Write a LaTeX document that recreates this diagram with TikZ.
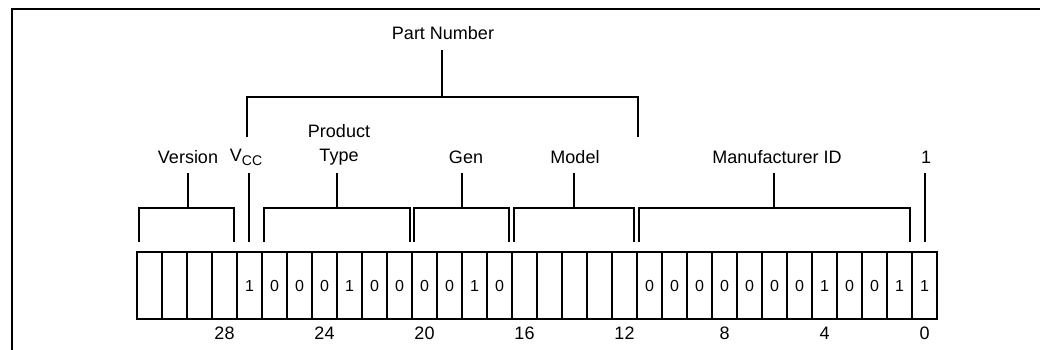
\documentclass[tikz,border=0pt]{standalone}
\usepackage{fontspec}
\setmainfont{Liberation Sans}
\begin{document}
\begin{tikzpicture}[x=1pt,y=-1pt,line width=1.5pt,
  lbl/.style={font=\fontsize{18}{24}\selectfont, inner sep=0pt},
  bitv/.style={font=\fontsize{16}{18}\selectfont},
  cellbox/.style={draw, line width=1.4pt, minimum width=25pt, minimum height=67pt, inner sep=0pt},
]
\useasboundingbox (0,0) rectangle (1040,350);
% frame (cropped)
\draw (12,350) -- (12,9) -- (1040,9);
% bit cells
\foreach \v [count=\i from 0] in {{},{},{},{},1,0,0,0,1,0,0,0,0,1,0,{},{},{},{},{},0,0,0,0,0,0,0,1,0,0,1,1}{
  \pgfmathtruncatemacro\b{31-\i}
  \node[cellbox, bitv] (c\b) at ({149.5+25*\i},285.5) {\v};
}
% bit numbers
\foreach \b in {28,24,20,16,12,8,4,0}{
  \node[lbl] (n\b) at (c\b |- 0,333) {\b};
}
% field labels
\node[lbl] (ver) at (188,157) {Version};
\node[lbl] (vcc) at (246,157) {V\raisebox{-0.4ex}{\fontsize{14}{14}\selectfont CC}};
\node[lbl, align=center] (ptype) at (339,144.5) {Product\\Type};
\node[lbl] (gen) at (466,157) {Gen};
\node[lbl] (model) at (575,157) {Model};
\node[lbl] (mid) at (777,157) {Manufacturer ID};
\node[lbl] (one) at (926,157) {1};
\node[lbl] (pn) at (443,33) {Part Number};
% stem tops
\coordinate (sver) at (188,173);
\coordinate (svcc) at (249,173);
\coordinate (spt) at (337,173);
\coordinate (sgen) at (462,173);
\coordinate (smod) at (574,173);
\coordinate (smid) at (774,173);
\coordinate (sone) at (925,173);
\coordinate (spn) at (442,50);
% lower brackets
\draw (139,242) |- (234,208) -- (234,242);
\draw (sver) -- (sver |- 0,208);
\draw (svcc) -- (249,242);
\draw (264,242) |- (410,208) -- (410,242);
\draw (spt) -- (spt |- 0,208);
\draw (414,242) |- (509,208) -- (509,242);
\draw (sgen) -- (sgen |- 0,208);
\draw (514,242) |- (634,208) -- (634,242);
\draw (smod) -- (smod |- 0,208);
\draw (639,242) |- (910,208) -- (910,242);
\draw (smid) -- (smid |- 0,208);
\draw (sone) -- (925,242);
% part number bracket
\draw (247,137) |- (638,97) -- (638,137);
\draw (spn) -- (spn |- 0,97);
\end{tikzpicture}
\end{document}
